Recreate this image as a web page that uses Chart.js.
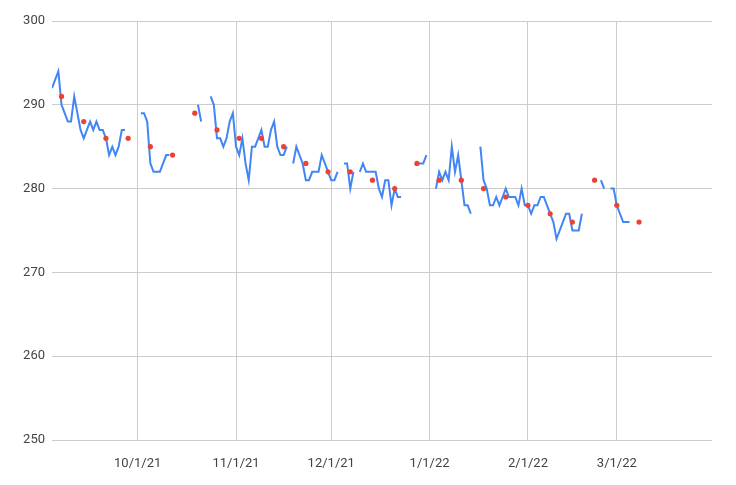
<!DOCTYPE html>
<html>
<head>
<meta charset="utf-8">
<script src="https://cdn.jsdelivr.net/npm/chart.js@4"></script>
<style>
  body { margin: 0; background: #fff; }
  #wrap { width: 736px; height: 485px; }
</style>
</head>
<body>
<div id="wrap"><canvas id="grafico" width="736" height="485"></canvas></div>
<script>
// x values are days counted from 9/1/21 (day 0)
const dailyStartDay = 3;
const dailyValues = [
  292, 293, 294, 290, 289, 288, 288, 291, 289, 287, 286, 287, 288, 287, 288, 287, 287, 286, 284, 285, 284, 285, 287, 287,
  null, null, null, null,
  289, 289, 288, 283, 282, 282, 282, 283, 284, 284,
  null, null, null, null, null, null, null, null,
  290, 288,
  null, null,
  291, 290, 286, 286, 285, 286, 288, 289, 285, 284, 286, 283, 281, 285, 285, 286, 287, 285, 285, 287, 288, 285, 284, 284, 285,
  null,
  283, 285, 284, 283, 281, 281, 282, 282, 282, 284, 283, 282, 281, 281, 282,
  null,
  283, 283, 280, 282,
  null,
  282, 283, 282, 282, 282, 282, 280, 279, 281, 281, 278, 280, 279, 279,
  null, null, null, null,
  283, 283, 283, 284,
  null, null,
  280, 282, 281, 282, 281, 285, 282, 284, 281, 278, 278, 277,
  null, null,
  285, 281, 280, 278, 278, 279, 278, 279, 280, 279, 279, 279, 278, 280, 278, 278, 277, 278, 278, 279, 279,
  278, 277, 276, 274, 275, 276, 277, 277, 275, 275, 275, 277,
  null, null, null, null, null,
  281, 280,
  null,
  280, 280, 278, 277, 276, 276, 276
];

const weeklyDays = [6, 13, 20, 27, 34, 41, 48, 55, 62, 69, 76, 83, 90, 97, 104, 111, 118, 125, 132, 139, 146, 153, 160, 167, 174, 181, 188];
const weeklyValues = [291, 288, 286, 286, 285, 284, 289, 287, 286, 286, 285, 283, 282, 282, 281, 280, 283, 281, 281, 280, 279, 278, 277, 276, 281, 278, 276];

const monthTickDays = [30, 61, 91, 122, 153, 181];
const monthTickLabels = ['10/1/21', '11/1/21', '12/1/21', '1/1/22', '2/1/22', '3/1/22'];

const yTicks = [250, 260, 270, 280, 290, 300];

document.addEventListener("DOMContentLoaded", () => {
    const ctx = document.getElementById('grafico').getContext('2d');

    const dailyPoints = dailyValues.map((v, i) => ({ x: dailyStartDay + i, y: v }));
    const weeklyPoints = weeklyDays.map((d, i) => ({ x: d, y: weeklyValues[i] }));

    const fonte = { family: 'Roboto, "Liberation Sans", Arial, sans-serif', size: 13 };

    new Chart(ctx, {
        type: 'line',
        data: {
            datasets: [
                {
                    data: weeklyPoints,
                    showLine: false,
                    pointRadius: 2.6,
                    pointHoverRadius: 2.6,
                    pointBorderWidth: 0,
                    pointBackgroundColor: '#ea4335',
                    backgroundColor: '#ea4335',
                },
                {
                    data: dailyPoints,
                    borderColor: '#4285f4',
                    borderWidth: 2,
                    pointRadius: 0,
                    tension: 0,
                    spanGaps: false,
                }
            ]
        },
        options: {
            responsive: false,
            animation: false,
            layout: { padding: { top: 21, right: 24, left: 0, bottom: 0 } },
            plugins: {
                legend: { display: false },
                tooltip: { enabled: false },
            },
            scales: {
                x: {
                    type: 'linear',
                    min: 3,
                    max: 211,
                    border: { display: false },
                    grid: { color: '#cccccc', lineWidth: 1, drawTicks: false },
                    afterBuildTicks: scale => {
                        scale.ticks = monthTickDays.map(v => ({ value: v }));
                    },
                    afterFit: scale => { scale.height = 45; },
                    ticks: {
                        padding: 16,
                        color: '#444444',
                        font: fonte,
                        maxRotation: 0,
                        autoSkip: false,
                        callback: value => monthTickLabels[monthTickDays.indexOf(value)],
                    }
                },
                y: {
                    min: 250,
                    max: 300,
                    border: { display: false },
                    grid: { color: '#cccccc', lineWidth: 1, drawTicks: false },
                    afterBuildTicks: scale => {
                        scale.ticks = yTicks.map(v => ({ value: v }));
                    },
                    afterFit: scale => { scale.width = 52; },
                    ticks: {
                        padding: 7,
                        color: '#444444',
                        font: fonte,
                    }
                }
            }
        }
    });
});
</script>
</body>
</html>
